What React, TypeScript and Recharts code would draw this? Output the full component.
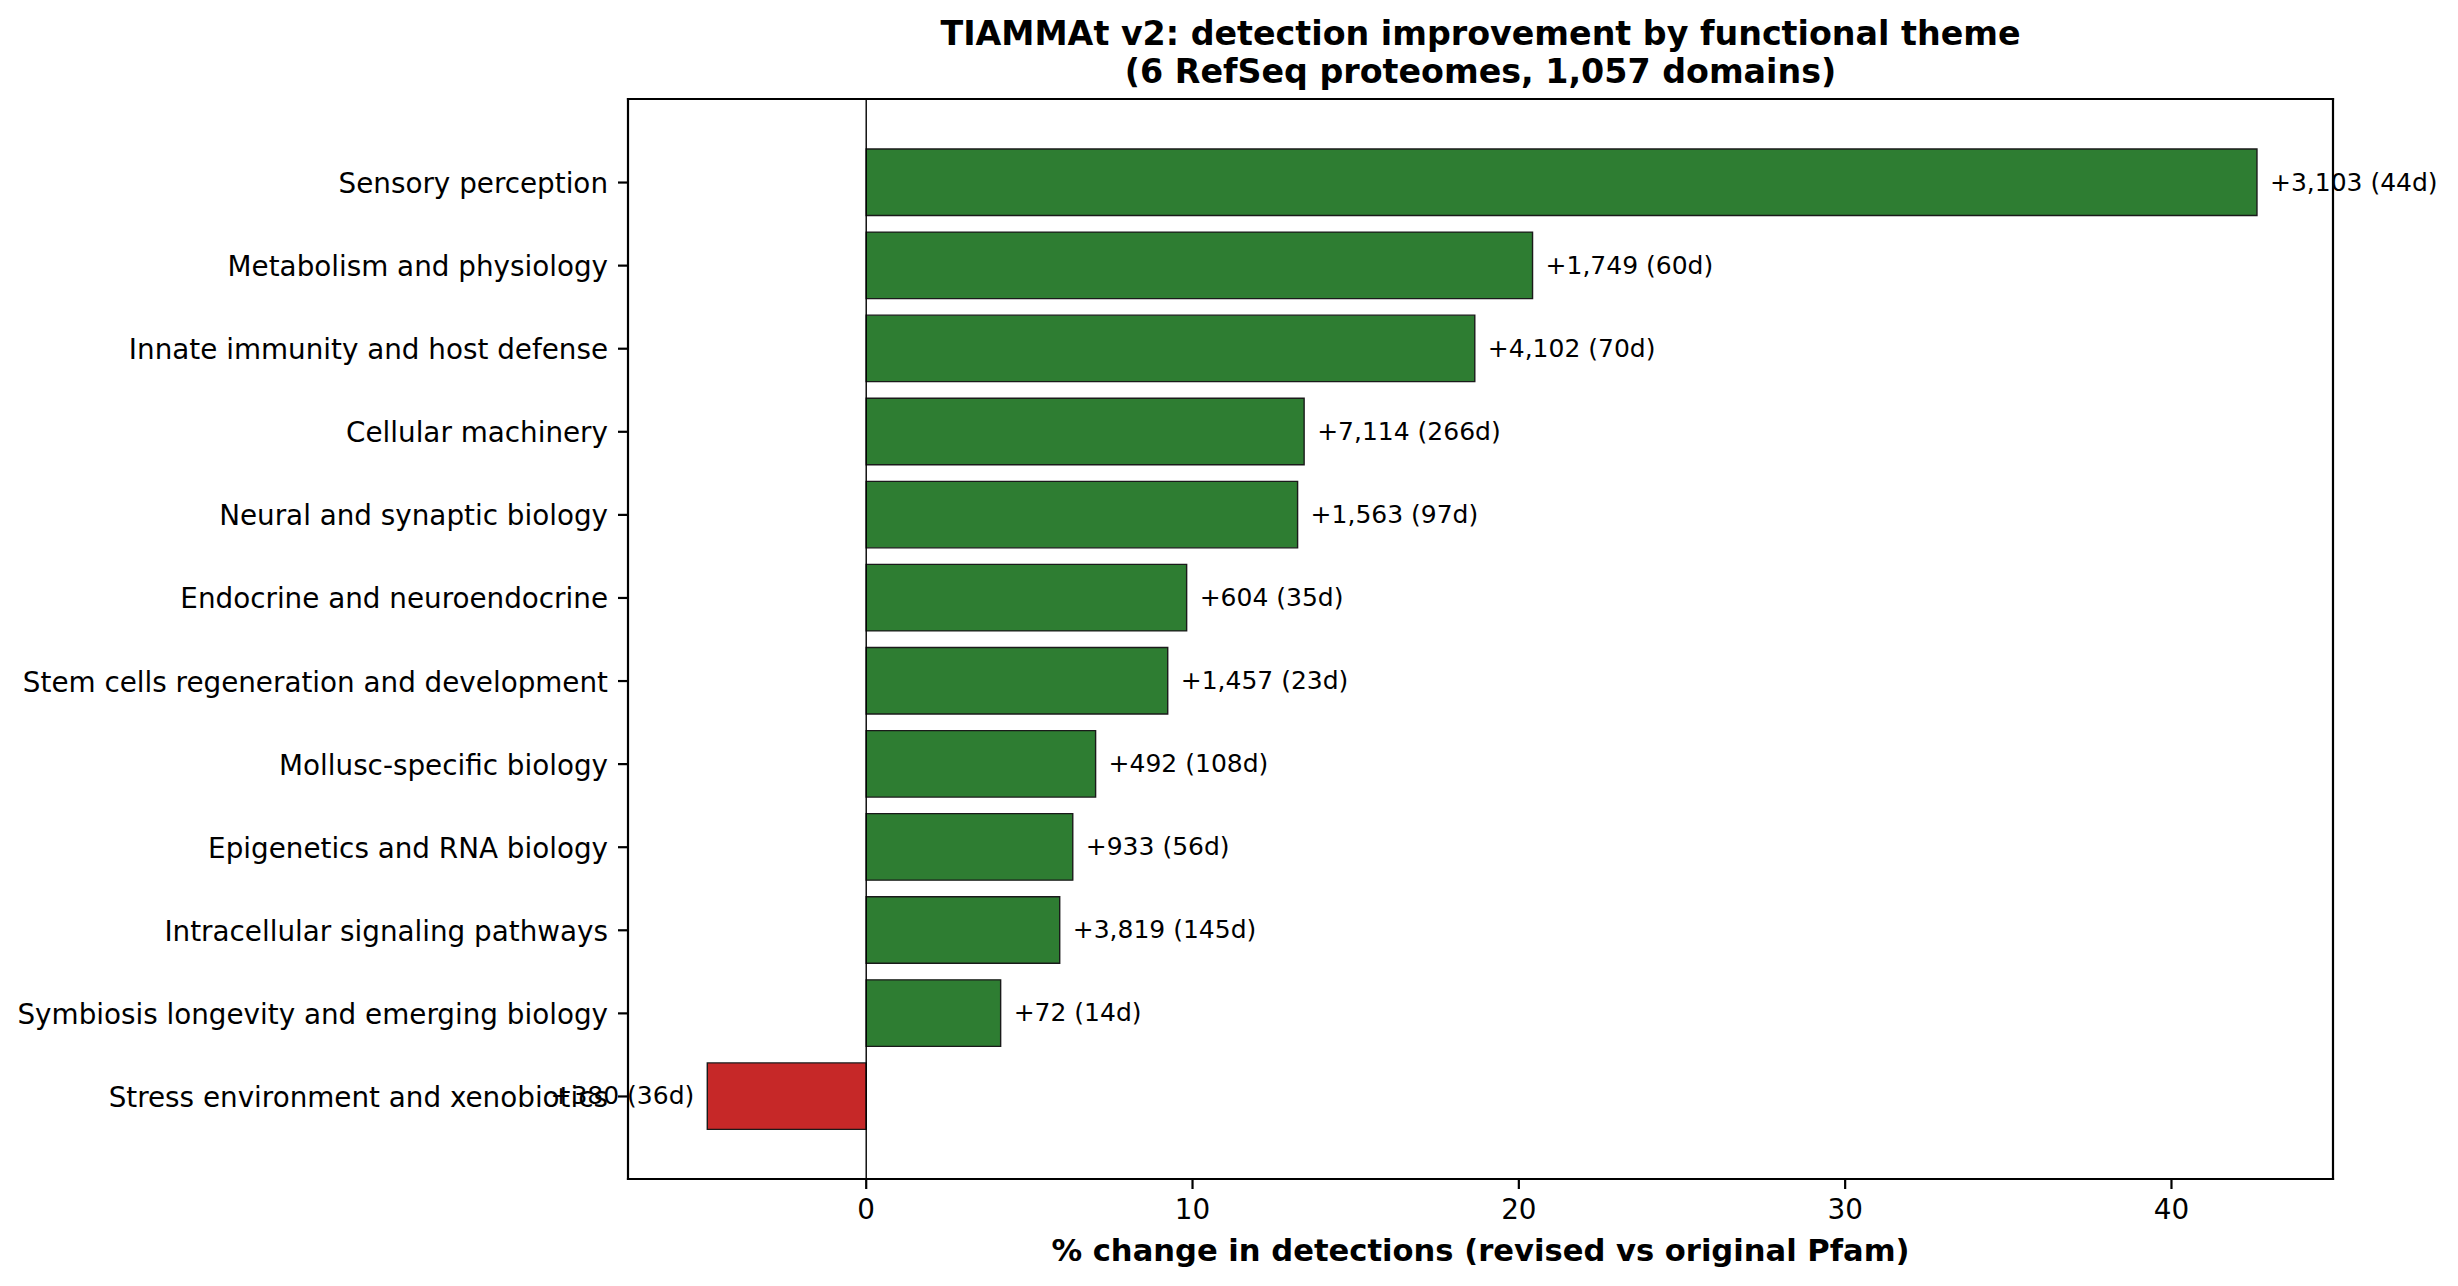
import {
  BarChart,
  Bar,
  XAxis,
  YAxis,
  Cell,
  LabelList,
  ReferenceLine,
} from "recharts";

const themes = [
  "Sensory perception",
  "Metabolism and physiology",
  "Innate immunity and host defense",
  "Cellular machinery",
  "Neural and synaptic biology",
  "Endocrine and neuroendocrine",
  "Stem cells regeneration and development",
  "Mollusc-specific biology",
  "Epigenetics and RNA biology",
  "Intracellular signaling pathways",
  "Symbiosis longevity and emerging biology",
  "Stress environment and xenobiotics",
];

// % change in detections (revised vs original Pfam)
const pctChange = [42.62, 20.42, 18.65, 13.42, 13.22, 9.82, 9.24, 7.03, 6.33, 5.93, 4.12, -4.87];

// extra detections and number of domains per theme
const addedDetections = [3103, 1749, 4102, 7114, 1563, 604, 1457, 492, 933, 3819, 72, 380];
const domainCounts = [44, 60, 70, 266, 97, 35, 23, 108, 56, 145, 14, 36];

const xTicks = [0, 10, 20, 30, 40];
const xDomain = [-7.3, 44.95];

const data = themes.map((theme, i) => ({
  theme,
  pct: pctChange[i],
  label: `+${addedDetections[i].toLocaleString("en-US")} (${domainCounts[i]}d)`,
}));

const FONT = "'DejaVu Sans', sans-serif";
const W = 2458;
const H = 1286;
const spine = { stroke: "#000", strokeWidth: 2.2, strokeLinecap: "square" as const };

function BarLabel(props: any) {
  const { x, y, width, height, value, index } = props;
  const left = Math.min(x, x + width);
  const right = Math.max(x, x + width);
  const neg = pctChange[index] < 0;
  return (
    <text
      x={neg ? left - 13 : right + 13}
      y={y + height / 2}
      dy="0.33em"
      textAnchor={neg ? "end" : "start"}
      fontSize={25}
      fontFamily={FONT}
      fill="#000"
    >
      {value}
    </text>
  );
}

function ThemeTick(props: any) {
  const { x, y, payload } = props;
  return (
    <text x={x} y={y} dy={10.5} textAnchor="end" fontSize={27.8} fontFamily={FONT} fill="#000">
      {payload.value}
    </text>
  );
}

export default function App() {
  return (
    <div style={{ position: "absolute", left: 0, top: 0, width: W, height: H, background: "#fff" }}>
      <BarChart
        width={W}
        height={H}
        data={data}
        layout="vertical"
        margin={{ top: 98, right: 124, bottom: 0, left: 0 }}
      >
        <XAxis
          type="number"
          domain={xDomain}
          ticks={xTicks}
          height={107}
          axisLine={spine}
          tickLine={{ stroke: "#000", strokeWidth: 2.2 }}
          tickSize={10}
          tickMargin={10}
          tick={{ fill: "#000", fontSize: 27.8, fontFamily: FONT }}
        />
        <XAxis
          xAxisId="top"
          orientation="top"
          type="number"
          domain={xDomain}
          ticks={xTicks}
          height={1}
          tick={false}
          tickLine={false}
          axisLine={spine}
        />
        <YAxis
          type="category"
          dataKey="theme"
          width={628}
          interval={0}
          padding={{ top: 42, bottom: 41 }}
          axisLine={spine}
          tickLine={{ stroke: "#000", strokeWidth: 2.2 }}
          tickSize={10}
          tickMargin={10}
          tick={<ThemeTick />}
        />
        <YAxis
          yAxisId="right"
          orientation="right"
          type="category"
          dataKey="theme"
          width={1}
          tick={false}
          tickLine={false}
          axisLine={spine}
        />
        <ReferenceLine x={0} stroke="#000" strokeWidth={1.4} />
        <Bar dataKey="pct" barSize={66.5} stroke="#1a1a1a" strokeWidth={1.4} isAnimationActive={false}>
          {data.map((d) => (
            <Cell key={d.theme} fill={d.pct < 0 ? "#c62828" : "#2e7d32"} />
          ))}
          <LabelList dataKey="label" content={BarLabel} />
        </Bar>
      </BarChart>
      <svg
        width={W}
        height={H}
        style={{ position: "absolute", left: 0, top: 0, pointerEvents: "none" }}
      >
        <text x={1480.5} y={44.5} textAnchor="middle" fontSize={33.3} fontWeight="bold" fontFamily={FONT}>
          TIAMMAt v2: detection improvement by functional theme
        </text>
        <text x={1480.5} y={83} textAnchor="middle" fontSize={33.3} fontWeight="bold" fontFamily={FONT}>
          (6 RefSeq proteomes, 1,057 domains)
        </text>
        <text x={1480.5} y={1261} textAnchor="middle" fontSize={30.6} fontWeight="bold" fontFamily={FONT}>
          % change in detections (revised vs original Pfam)
        </text>
      </svg>
    </div>
  );
}
